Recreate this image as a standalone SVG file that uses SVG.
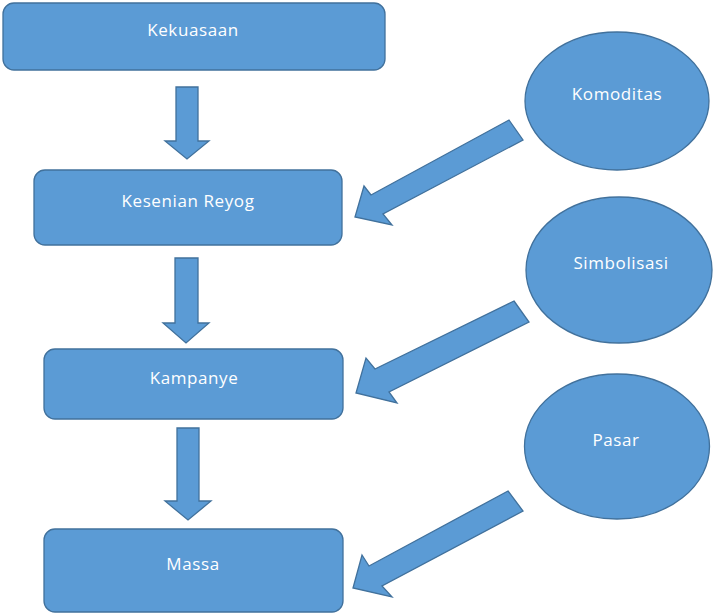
<svg xmlns="http://www.w3.org/2000/svg" width="715" height="614" viewBox="0 0 715 614">
<style>
.shape{fill:#5B9BD5;stroke:#41719C;stroke-width:1.3}
.lbl{fill:#ffffff;font-family:"Open Sans","Liberation Sans",sans-serif;font-size:17px;text-anchor:middle;letter-spacing:0.6px}
</style>
<rect width="715" height="614" fill="#ffffff"/>
<g id="connectors">
<polygon class="shape" points="176,87 198,87 198,141 209,141 187,159 165,141 176,141"/>
<polygon class="shape" points="175,258 198,258 198,323 209,323 186,343 163,323 175,323"/>
<polygon class="shape" points="177,428 199,428 199,501 211,501 188,520 165,501 177,501"/>
<polygon class="shape" points="509,120 523,140 383,214 392,225 355,217 364,186 371,195"/>
<polygon class="shape" points="514,301 529,322 389,392 397,403 356,393 366,358 375,369"/>
<polygon class="shape" points="508,491 523,511 382,586 392,597 353,588 362,555 369,566"/>
</g>
<g id="kekuasaan">
<rect class="shape" x="3" y="3" width="382" height="67" rx="11"/>
<text class="lbl" x="193" y="36">Kekuasaan</text>
</g>
<g id="kesenian-reyog">
<rect class="shape" x="34" y="170" width="308" height="75" rx="11"/>
<text class="lbl" x="188" y="207">Kesenian Reyog</text>
</g>
<g id="kampanye">
<rect class="shape" x="44" y="349" width="299" height="70" rx="11"/>
<text class="lbl" x="194" y="384">Kampanye</text>
</g>
<g id="massa">
<rect class="shape" x="44" y="529" width="299" height="83" rx="11"/>
<text class="lbl" x="193" y="570">Massa</text>
</g>
<g id="komoditas">
<ellipse class="shape" cx="617" cy="101" rx="92" ry="69"/>
<text class="lbl" x="617" y="100">Komoditas</text>
</g>
<g id="simbolisasi">
<ellipse class="shape" cx="619" cy="270" rx="93" ry="73"/>
<text class="lbl" x="621" y="269">Simbolisasi</text>
</g>
<g id="pasar">
<ellipse class="shape" cx="617" cy="446.5" rx="92.5" ry="72.5"/>
<text class="lbl" x="616" y="446">Pasar</text>
</g>
</svg>
